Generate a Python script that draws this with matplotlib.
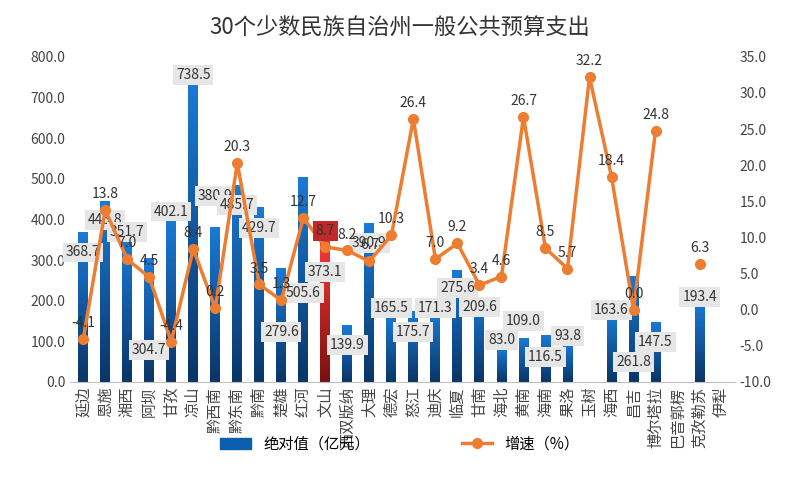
import matplotlib
matplotlib.use("Agg")
import matplotlib.pyplot as plt
import numpy as np

plt.rcParams['font.family'] = ['Noto Sans CJK SC', 'DejaVu Sans']

cats = ["延边","恩施","湘西","阿坝","甘孜","凉山","黔西南","黔东南","黔南","楚雄",
        "红河","文山","西双版纳","大理","德宏","怒江","迪庆","临夏","甘南","海北",
        "黄南","海南","果洛","玉树","海西","昌吉","博尔塔拉","巴音郭楞","克孜勒苏","伊犁"]
spend = [368.7,445.8,351.7,304.7,402.1,738.5,380.9,485.7,429.7,279.6,
         505.6,373.1,139.9,390.9,165.5,175.7,171.3,275.6,209.6,83.0,
         109.0,116.5,93.8,np.nan,163.6,261.8,147.5,np.nan,193.4,np.nan]
growth = [-4.1,13.8,7.0,4.5,-4.4,8.4,0.2,20.3,3.5,1.3,
          12.7,8.7,8.2,6.7,10.3,26.4,7.0,9.2,3.4,4.6,
          26.7,8.5,5.7,32.2,18.4,0.0,24.8,np.nan,6.3,np.nan]

# label placement offsets (layout only)
bar_dy = [-50,-47,17,-226,17,17,77,-50,-51,-157,-287,-102,-49,-49,17,-53,11,-44,-25,20,
          41,-55,19,0,14,-213,-49,0,16,0]

fig = plt.figure(figsize=(8, 4.86), dpi=100)
ax = fig.add_axes([0.0875, 0.214, 0.831, 0.669])
ax2 = ax.twinx()
x = np.arange(len(cats))
bars = ax.bar(x, np.nan_to_num(spend), width=0.45, color='#0B5EAE', zorder=2)

blue = matplotlib.colors.LinearSegmentedColormap.from_list('b', ['#0A3566', '#1A7AD6'])
red = matplotlib.colors.LinearSegmentedColormap.from_list('r', ['#7A1010', '#FF3B3B'])
grad = np.linspace(0, 1, 100).reshape(-1, 1)
for i, b in enumerate(bars):
    h = b.get_height()
    if h <= 0:
        continue
    cm = red if cats[i] == "文山" else blue
    im = ax.imshow(grad, cmap=cm, origin='lower', aspect='auto',
                   extent=[b.get_x(), b.get_x() + b.get_width(), 0, h], zorder=2)
    im.set_clip_path(b)
    b.set_alpha(0)

ax.set_xlim(-0.6, len(cats) - 0.4)
ax.set_ylim(0, 800)
ax.set_yticks(np.arange(0, 801, 100))
ax.set_yticklabels([f"{v:.1f}" for v in np.arange(0, 801, 100)])
ax2.set_ylim(-10, 35)
ax2.set_yticks(np.arange(-10, 36, 5))
ax2.set_yticklabels([f"{v:.1f}" for v in np.arange(-10, 36, 5)])

ax2.plot(x, growth, color='#ED7D31', lw=2.5, marker='o', ms=7, zorder=3)

for i, v in enumerate(spend):
    if np.isnan(v):
        continue
    ax.text(i, v + bar_dy[i], f"{v:.1f}", ha='center', va='center', fontsize=10, color='#333333',
            bbox=dict(boxstyle='square,pad=0.2', fc='#E6E6E6', ec='none'), zorder=5)
for i, v in enumerate(growth):
    if np.isnan(v):
        continue
    if cats[i] == "文山":
        ax2.text(i, v + 2.2, f"{v:.1f}", ha='center', va='center', fontsize=10, color='#333333',
                 bbox=dict(boxstyle='square,pad=0.2', fc='#C0282A', ec='none'), zorder=6)
    else:
        ax2.text(i, v + 2.2, f"{v:.1f}", ha='center', va='center', fontsize=10, color='#333333', zorder=6)

ax.set_xticks(x)
ax.set_xticklabels(cats, rotation=90, fontsize=11, color='#444444')
ax.tick_params(axis='x', length=0)
for a in (ax, ax2):
    a.tick_params(axis='y', length=0, labelsize=10, labelcolor='#444444')
    for s in ('top', 'left', 'right'):
        a.spines[s].set_visible(False)
    a.spines['bottom'].set_color('#BFBFBF')
ax2.spines['bottom'].set_visible(False)

fig.suptitle("30个少数民族自治州一般公共预算支出", fontsize=16, color='#333333', y=0.965)

from matplotlib.patches import Patch
from matplotlib.lines import Line2D
h = [Patch(color='#0B5EAE'), Line2D([], [], color='#ED7D31', lw=2.5, marker='o', ms=7)]
fig.legend(h, ["绝对值（亿元）", "增速（%）"], ncol=2, loc='lower center',
           bbox_to_anchor=(0.5, 0.04), frameon=False, fontsize=11, columnspacing=6)
fig.savefig("out.png", dpi=100)
